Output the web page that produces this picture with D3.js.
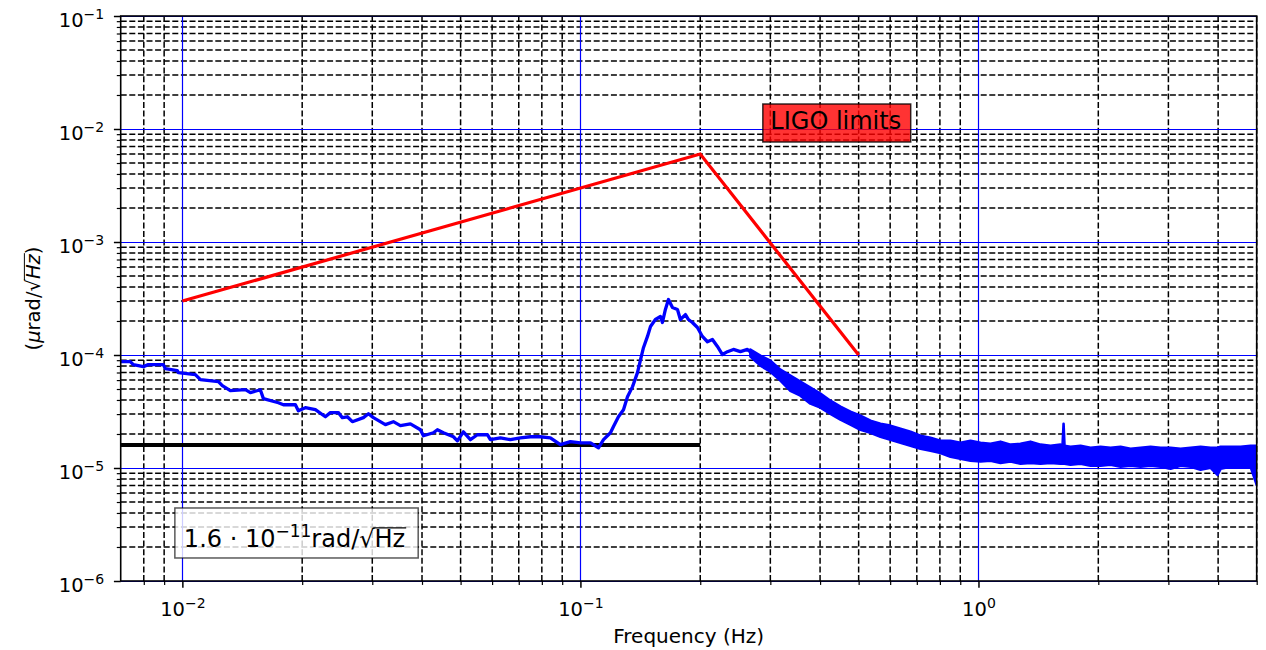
<!DOCTYPE html>
<html><head><meta charset="utf-8">
<script src="https://cdn.jsdelivr.net/npm/d3@7"></script>
<style>
body{margin:0;background:#fff}
svg{display:block}
text{font-family:"DejaVu Sans",sans-serif;fill:#000}
</style>
</head><body>
<svg id="c" width="1266" height="650"></svg>
<script>
// ---------------- data ----------------
// measured spectrum, low-frequency part (single trace)
const lineFreq = [0.0070,0.00740,0.00753,0.00798,0.00821,0.00896,0.00906,0.00971,0.00977,0.01078,0.01110,0.01232,0.01260,0.01320,0.01440,0.01482,0.01570,0.01598,0.01743,0.01794,0.01923,0.01956,0.02037,0.02159,0.02287,0.02354,0.02466,0.02523,0.02597,0.02673,0.02850,0.02934,0.03020,0.03236,0.03389,0.03530,0.03740,0.03963,0.04033,0.04272,0.04372,0.04527,0.04797,0.04909,0.05082,0.05292,0.05511,0.05839,0.05941,0.06295,0.06670,0.07067,0.07486,0.07932,0.08405,0.08905,0.09438,0.1000,0.1060,0.1110,0.1143,0.1190,0.1210,0.1246,0.1283,0.1313,0.1352,0.1391,0.1416,0.1440,0.1474,0.1500,0.1543,0.1589,0.1607,0.1635,0.1664,0.1703,0.1753,0.1783,0.1836,0.1868,0.1911,0.1968,0.2025,0.2085,0.2146,0.2209,0.2274,0.2341,0.2423,0.2523,0.2628,0.2721];
const linePsd = [8.74e-5,8.74e-5,8.22e-5,7.89e-5,8.22e-5,8.22e-5,7.57e-5,7.27e-5,6.98e-5,6.70e-5,6.05e-5,5.81e-5,5.35e-5,4.83e-5,4.93e-5,4.64e-5,4.93e-5,4.11e-5,3.78e-5,3.63e-5,3.63e-5,3.21e-5,3.42e-5,3.28e-5,2.84e-5,3.09e-5,3.09e-5,2.79e-5,2.84e-5,2.57e-5,2.79e-5,3.02e-5,2.79e-5,2.42e-5,2.57e-5,2.37e-5,2.46e-5,2.18e-5,1.93e-5,2.05e-5,2.18e-5,2.05e-5,1.89e-5,1.74e-5,2.09e-5,1.78e-5,1.97e-5,1.97e-5,1.78e-5,1.85e-5,1.78e-5,1.85e-5,1.89e-5,1.89e-5,1.85e-5,1.61e-5,1.71e-5,1.67e-5,1.67e-5,1.51e-5,1.78e-5,2.05e-5,2.32e-5,2.84e-5,3.28e-5,4.28e-5,5.25e-5,6.98e-5,9.10e-5,1.16e-4,1.46e-4,1.79e-4,2.06e-4,2.19e-4,1.94e-4,2.53e-4,3.10e-4,2.63e-4,2.53e-4,2.06e-4,2.28e-4,2.06e-4,1.94e-4,1.75e-4,1.46e-4,1.31e-4,1.37e-4,1.19e-4,1.01e-4,1.07e-4,1.12e-4,1.07e-4,1.12e-4,1.01e-4];
// measured spectrum, high-frequency part (noise band: upper / lower envelope)
const bandFreq = [0.2673,0.2832,0.3001,0.3180,0.3369,0.3570,0.3783,0.4008,0.4247,0.4500,0.4768,0.5052,0.5353,0.5672,0.6010,0.6368,0.6748,0.7150,0.7576,0.8027,0.8506,0.9012,0.9549,1.012,1.072,1.136,1.204,1.275,1.351,1.432,1.517,1.607,1.626,1.636,1.645,1.703,1.805,1.912,2.026,2.147,2.275,2.410,2.554,2.706,2.867,3.038,3.219,3.411,3.614,3.830,3.986,4.058,4.300,4.556,4.827,5.0];
const bandHi = [1.117e-4,9.88e-5,8.92e-5,7.42e-5,6.57e-5,5.81e-5,5.14e-5,4.55e-5,3.94e-5,3.49e-5,3.15e-5,2.90e-5,2.62e-5,2.46e-5,2.37e-5,2.23e-5,2.09e-5,1.93e-5,1.85e-5,1.74e-5,1.74e-5,1.67e-5,1.74e-5,1.67e-5,1.64e-5,1.71e-5,1.61e-5,1.64e-5,1.71e-5,1.61e-5,1.57e-5,1.61e-5,1.57e-5,2.46e-5,1.57e-5,1.54e-5,1.57e-5,1.51e-5,1.54e-5,1.51e-5,1.54e-5,1.48e-5,1.51e-5,1.54e-5,1.51e-5,1.51e-5,1.48e-5,1.51e-5,1.54e-5,1.51e-5,1.51e-5,1.54e-5,1.54e-5,1.54e-5,1.57e-5,1.57e-5];
const bandLo = [9.68e-5,8.05e-5,7.12e-5,5.93e-5,4.83e-5,4.37e-5,3.71e-5,3.42e-5,3.02e-5,2.68e-5,2.42e-5,2.18e-5,2.05e-5,1.89e-5,1.78e-5,1.67e-5,1.57e-5,1.48e-5,1.42e-5,1.36e-5,1.26e-5,1.21e-5,1.16e-5,1.14e-5,1.16e-5,1.11e-5,1.14e-5,1.09e-5,1.11e-5,1.09e-5,1.11e-5,1.09e-5,1.09e-5,1.09e-5,1.09e-5,1.07e-5,1.09e-5,1.046e-5,1.046e-5,1.07e-5,1.025e-5,1.046e-5,1.025e-5,1.046e-5,1.025e-5,9.84e-6,1.046e-5,1.025e-5,9.64e-6,1.004e-5,8.70e-6,9.84e-6,1.025e-5,1.004e-5,1.025e-5,7.10e-6];
// LIGO limit (red) and requirement level (black)
const limitFreq = [0.01, 0.2, 0.5];
const limitPsd  = [3e-4, 6e-3, 1e-4];
const floorFreq = [0.007, 0.2];
const floorPsd  = [1.6e-5, 1.6e-5];
// ticks
const xMajorTicks = [0.01, 0.1, 1];
const xTickExp    = ["\u22122", "\u22121", "0"];
const yMajorTicks = [1e-6, 1e-5, 1e-4, 1e-3, 1e-2, 1e-1];
const yTickExp    = ["\u22126", "\u22125", "\u22124", "\u22123", "\u22122", "\u22121"];
const xLabel = "Frequency (Hz)";
const limitLabel = "LIGO limits";
const limitLabelPos = [0.3, 1e-2];
const noteBase = "1.6 \u00b7 10", noteExp = "\u221211", noteUnit = "rad/";
const notePos = [0.01, 2e-6];

// ---------------- layout ----------------
const L = 120.7, R = 1256.7, T = 16, B = 581;
const x = d3.scaleLog().domain([0.007, 5]).range([L, R]);
const y = d3.scaleLog().domain([1e-6, 1e-1]).range([B, T]);
const svg = d3.select("#c");
svg.append("defs").append("clipPath").attr("id", "clip")
  .append("rect").attr("x", L).attr("y", T).attr("width", R - L).attr("height", B - T);

const isMajor = (arr, v) => arr.some(m => Math.abs(m - v) / m < 1e-9);
const xMinor = x.ticks().filter(v => !isMajor(xMajorTicks, v) && v > x.domain()[0] * 1.0001);
const yMinor = y.ticks().filter(v => !isMajor(yMajorTicks, v));

// ---------------- grid ----------------
const grid = svg.append("g");
grid.selectAll(".xmin").data(xMinor).join("line")
  .attr("x1", d => x(d)).attr("x2", d => x(d)).attr("y1", T).attr("y2", B)
  .attr("stroke", "#000").attr("stroke-width", 1.5).attr("stroke-dasharray", "6,2.6");
grid.selectAll(".ymin").data(yMinor).join("line")
  .attr("y1", d => y(d)).attr("y2", d => y(d)).attr("x1", L).attr("x2", R)
  .attr("stroke", "#000").attr("stroke-width", 1.5).attr("stroke-dasharray", "6,2.6");
grid.selectAll(".xmaj").data(xMajorTicks).join("line")
  .attr("x1", d => Math.round(x(d)) + 0.5).attr("x2", d => Math.round(x(d)) + 0.5).attr("y1", T).attr("y2", B)
  .attr("stroke", "#0000ff").attr("stroke-width", 1.2);
grid.selectAll(".ymaj").data(yMajorTicks).join("line")
  .attr("y1", d => Math.round(y(d)) + 0.5).attr("y2", d => Math.round(y(d)) + 0.5).attr("x1", L).attr("x2", R)
  .attr("stroke", "#0000ff").attr("stroke-width", 1.2);

// ---------------- data marks ----------------
const plot = svg.append("g").attr("clip-path", "url(#clip)");
const lineGen = d3.line().x(d => x(d[0])).y(d => y(d[1]));
plot.append("path").datum(limitFreq.map((f, i) => [f, limitPsd[i]]))
  .attr("d", lineGen).attr("fill", "none").attr("stroke", "#ff0000").attr("stroke-width", 3.2);
plot.append("path").datum(floorFreq.map((f, i) => [f, floorPsd[i]]))
  .attr("d", lineGen).attr("fill", "none").attr("stroke", "#000").attr("stroke-width", 3.9);
plot.append("path").datum(lineFreq.map((f, i) => [f, linePsd[i]]))
  .attr("d", lineGen).attr("fill", "none").attr("stroke", "#0000ff")
  .attr("stroke-width", 3.3).attr("stroke-linejoin", "round");
const bandData = bandFreq.map((f, i) => ({f, hi: bandHi[i], lo: bandLo[i]}));
plot.append("path").datum(bandData)
  .attr("d", d3.area().x(d => x(d.f)).y0(d => y(d.lo)).y1(d => y(d.hi)))
  .attr("fill", "#0000ff").attr("stroke", "#0000ff").attr("stroke-width", 2.6)
  .attr("stroke-linejoin", "round");

// ---------------- frame & axes ----------------
svg.append("rect").attr("x", L).attr("y", T).attr("width", R - L).attr("height", B - T)
  .attr("fill", "none").attr("stroke", "#000").attr("stroke-width", 1.6);

function supLabels(sel, exps, majors) {
  sel.selectAll(".tick text").each(function(d) {
    const t = d3.select(this);
    const i = majors.findIndex(m => Math.abs(m - d) / m < 1e-9);
    t.text(null).attr("font-size", 19.5).attr("fill", "#000");
    t.append("tspan").text("10");
    t.append("tspan").attr("dy", -8).attr("font-size", 14).text(exps[i]);
  });
}
const xAxis = svg.append("g").attr("transform", `translate(0,${B})`)
  .call(d3.axisBottom(x).tickValues(xMajorTicks).tickSize(6.8).tickFormat(() => "x"));
xAxis.select(".domain").remove();
xAxis.selectAll(".tick line").attr("stroke-width", 1.5);
xAxis.selectAll(".tick text").attr("y", 35).attr("dy", null).attr("font-family", "DejaVu Sans");
supLabels(xAxis, xTickExp, xMajorTicks);
const xAxisMinor = svg.append("g").attr("transform", `translate(0,${B})`)
  .call(d3.axisBottom(x).tickValues(xMinor).tickSize(3.9).tickFormat(""));
xAxisMinor.select(".domain").remove();
xAxisMinor.selectAll(".tick line").attr("stroke-width", 1.2);

const yAxis = svg.append("g").attr("transform", `translate(${L},0)`)
  .call(d3.axisLeft(y).tickValues(yMajorTicks).tickSize(6.8).tickFormat(() => "x"));
yAxis.select(".domain").remove();
yAxis.selectAll(".tick line").attr("stroke-width", 1.5);
yAxis.selectAll(".tick text").attr("x", -16.5).attr("dy", 10).attr("font-family", "DejaVu Sans");
supLabels(yAxis, yTickExp, yMajorTicks);
const yAxisMinor = svg.append("g").attr("transform", `translate(${L},0)`)
  .call(d3.axisLeft(y).tickValues(yMinor).tickSize(3.9).tickFormat(""));
yAxisMinor.select(".domain").remove();
yAxisMinor.selectAll(".tick line").attr("stroke-width", 1.2);

// axis titles
svg.append("text").attr("x", (L + R) / 2).attr("y", 643).attr("text-anchor", "middle")
  .attr("font-size", 20).text(xLabel);

function sqrtBar(g, textNode, sqIdx, lastIdx, size) {
  const sq = textNode.getExtentOfChar(sqIdx);
  const la = textNode.getExtentOfChar(lastIdx);
  const base = +d3.select(textNode).attr("y") || 0;
  const yy = base - 0.8 * size;
  g.append("line").attr("x1", sq.x + sq.width * 0.92).attr("x2", la.x + la.width + 1)
    .attr("y1", yy).attr("y2", yy).attr("stroke", "#000").attr("stroke-width", size * 0.05);
}

const gy = svg.append("g").attr("transform", `translate(40,${(T + B) / 2}) rotate(-90)`);
const yl = gy.append("text").attr("x", 0).attr("y", 0).attr("text-anchor", "middle").attr("font-size", 19.5);
yl.append("tspan").text("(");
yl.append("tspan").attr("font-style", "italic").text("\u03bc");
yl.append("tspan").text("rad/\u221a");
yl.append("tspan").attr("font-style", "italic").text("Hz");
yl.append("tspan").text(")");
sqrtBar(gy, yl.node(), 6, 8, 19.5);

// ---------------- annotations ----------------
const lg = svg.append("g");
const lt = lg.append("text").attr("x", x(limitLabelPos[0])).attr("y", y(limitLabelPos[1]))
  .attr("font-size", 24).text(limitLabel);
const lw = lt.node().getComputedTextLength();
lg.insert("rect", "text").attr("x", x(limitLabelPos[0]) - 7.5).attr("y", y(limitLabelPos[1]) - 25)
  .attr("width", lw + 17).attr("height", 38)
  .attr("fill", "#ff0000").attr("fill-opacity", 0.8)
  .attr("stroke", "#000").attr("stroke-opacity", 0.8).attr("stroke-width", 1.5);

const ng = svg.append("g");
const nx = x(notePos[0]) + 1.5, ny = y(notePos[1]);
const nt = ng.append("text").attr("x", nx).attr("y", ny).attr("font-size", 24);
nt.append("tspan").text(noteBase);
nt.append("tspan").attr("dy", -10).attr("font-size", 17).text(noteExp);
nt.append("tspan").attr("dy", 10).text(noteUnit + "\u221a");
nt.append("tspan").text("Hz");
const nw = nt.node().getComputedTextLength();
ng.insert("rect", "text").attr("x", nx - 9).attr("y", ny - 39).attr("width", nw + 22).attr("height", 50)
  .attr("fill", "#fff").attr("fill-opacity", 0.8)
  .attr("stroke", "#000").attr("stroke-opacity", 0.65).attr("stroke-width", 1.5);
const noteStr = noteBase + noteExp + noteUnit + "\u221a" + "Hz";
sqrtBar(ng, nt.node(), noteStr.length - 3, noteStr.length - 1, 24);
</script>
</body></html>
